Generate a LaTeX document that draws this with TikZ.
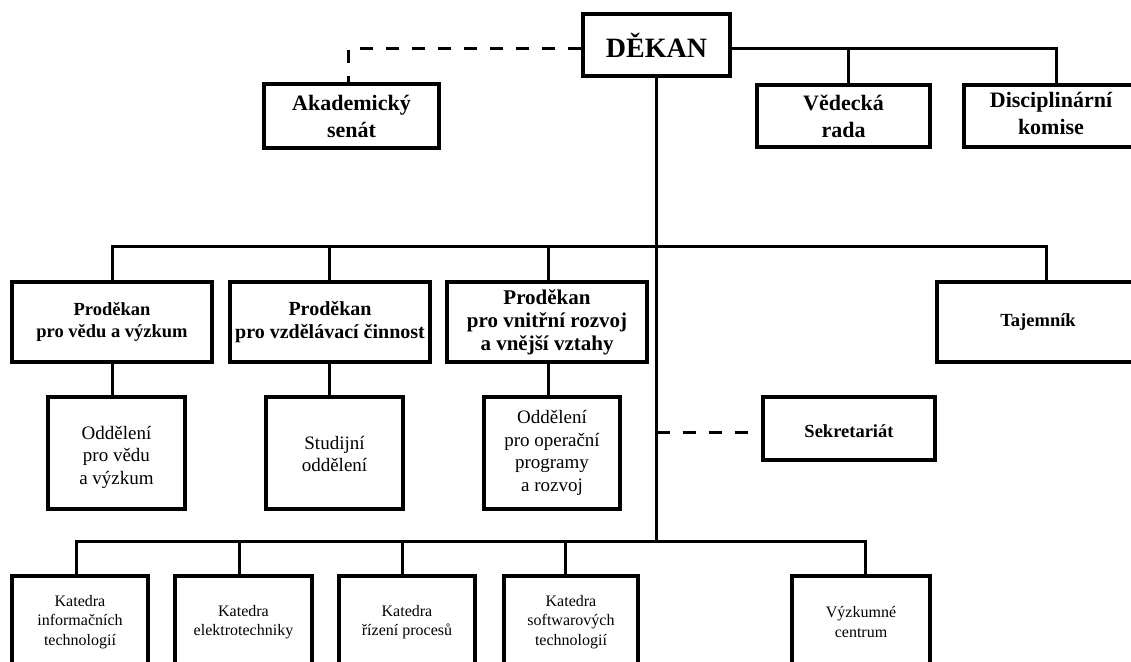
\documentclass[tikz,border=0pt]{standalone}
\usepackage{fontspec}
\setmainfont{Liberation Serif}
\tikzset{
  box/.style={draw, rectangle, line width=3.2pt, inner sep=0pt, anchor=center},
  abox/.style={box, align=center},
  big/.style={font=\bfseries\fontsize{22}{27}\selectfont},
  mid/.style={font=\bfseries\fontsize{18.5}{22.5}\selectfont},
  midl/.style={font=\bfseries\fontsize{20}{23}\selectfont},
  midx/.style={font=\bfseries\fontsize{21}{23}\selectfont},
  oddt/.style={font=\fontsize{19}{22.5}\selectfont},
  katt/.style={font=\fontsize{16}{19.5}\selectfont},
  conn/.style={line width=3pt},
  dconn/.style={line width=3pt, dash pattern=on 13pt off 13pt},
}
\begin{document}
\begin{tikzpicture}[x=1pt,y=-1pt]
\useasboundingbox (0,0) rectangle (1131,661);
\clip (0,0) rectangle (1131,661);
\fill[white] (0,0) rectangle (1131,661);

% top level
\node[abox, font=\bfseries\fontsize{28}{32}\selectfont, minimum width=147pt, minimum height=62pt] (dekan) at (656.5,45) {DĚKAN};
\node[abox, big, minimum width=175pt, minimum height=64pt] (akad) at (351.5,116) {Akademický\\senát};
\node[abox, big, minimum width=173pt, minimum height=62pt] (ved) at (843.5,116) {Vědecká\\rada};
\node[box, big, minimum width=184pt, minimum height=62pt] (disc) at (1056,116) {\begin{tabular}{@{}c@{}}Disciplinární\\komise\end{tabular}\kern10pt};

% second level
\node[abox, mid, minimum width=200pt, minimum height=80pt] (p1) at (112,322) {Proděkan\\pro vědu a výzkum};
\node[abox, midl, minimum width=200pt, minimum height=80pt] (p2) at (330,322) {Proděkan\\pro vzdělávací činnost};
\node[abox, midx, minimum width=200pt, minimum height=80pt] (p3) at (547,322) {Proděkan\\pro vnitřní rozvoj\\a vnější vztahy};
\node[abox, mid, minimum width=202pt, minimum height=80pt] (taj) at (1038,322) {Tajemník};

% departments
\node[abox, oddt, minimum width=137pt, minimum height=112pt] (o1) at (116.5,453) {\raisebox{-4pt}[\height][\depth]{\begin{tabular}{@{}c@{}}Oddělení\\pro vědu\\a výzkum\end{tabular}}};
\node[abox, oddt, minimum width=137pt, minimum height=112pt] (o2) at (334.5,453) {\raisebox{-3pt}[\height][\depth]{\begin{tabular}{@{}c@{}}Studijní\\oddělení\end{tabular}}};
\node[abox, oddt, minimum width=136pt, minimum height=112pt] (o3) at (552,453) {Oddělení\\pro operační\\programy\\a rozvoj};
\node[abox, mid, minimum width=172pt, minimum height=63pt] (sek) at (849,428.5) {\raisebox{-3pt}[\height][\depth]{Sekretariát}};

% katedry
\node[abox, katt, minimum width=136pt, minimum height=92pt] (k1) at (80,622) {Katedra\\informačních\\technologií};
\node[abox, katt, minimum width=137pt, minimum height=92pt] (k2) at (243.5,622) {Katedra\\elektrotechniky};
\node[abox, katt, minimum width=136pt, minimum height=92pt] (k3) at (407,622) {Katedra\\řízení procesů};
\node[abox, katt, minimum width=134pt, minimum height=92pt] (k4) at (571,622) {Katedra\\softwarových\\technologií};
\node[abox, katt, minimum width=138pt, minimum height=92pt] (k5) at (861,622) {Výzkumné\\centrum};

% coordinates for connector routes
\coordinate (dl) at (348,49);
\coordinate (vr) at (848,49);
\coordinate (dr) at (1056,49);
\coordinate (b2l) at (112,246);
\coordinate (b2a) at (329,246);
\coordinate (b2b) at (548,246);
\coordinate (b2r) at (1046,246);
\coordinate (sy) at (656.5,432);
\coordinate (b3m) at (656.5,541);
\coordinate (c1) at (76,541);
\coordinate (c2) at (239,541);
\coordinate (c3) at (402,541);
\coordinate (c4) at (565,541);
\coordinate (c5) at (865,541);

% top connectors
\draw[dconn] (dekan.west |- dl) -| (dl |- akad.north);
\draw[conn] (dekan.east |- dr) -- (dr) -- (dr |- disc.north);
\draw[conn] (vr) -- (vr |- ved.north);

% main trunk
\draw[conn] (dekan.south) -- (b3m);

% second level bar
\draw[conn] (b2l |- p1.north) -- (b2l) -- (b2r) -- (b2r |- taj.north);
\draw[conn] (b2a) -- (b2a |- p2.north);
\draw[conn] (b2b) -- (b2b |- p3.north);

% prodekan to departments
\draw[conn] (p1.south -| b2l) -- (b2l |- o1.north);
\draw[conn] (p2.south -| b2a) -- (b2a |- o2.north);
\draw[conn] (p3.south -| b2b) -- (b2b |- o3.north);

% secretariat
\draw[dconn] (sy) -- (sek.west |- sy);

% katedry bar
\draw[conn] (c1 |- k1.north) -- (c1) -- (c5) -- (c5 |- k5.north);
\draw[conn] (c2) -- (c2 |- k2.north);
\draw[conn] (c3) -- (c3 |- k3.north);
\draw[conn] (c4) -- (c4 |- k4.north);
\end{tikzpicture}
\end{document}
